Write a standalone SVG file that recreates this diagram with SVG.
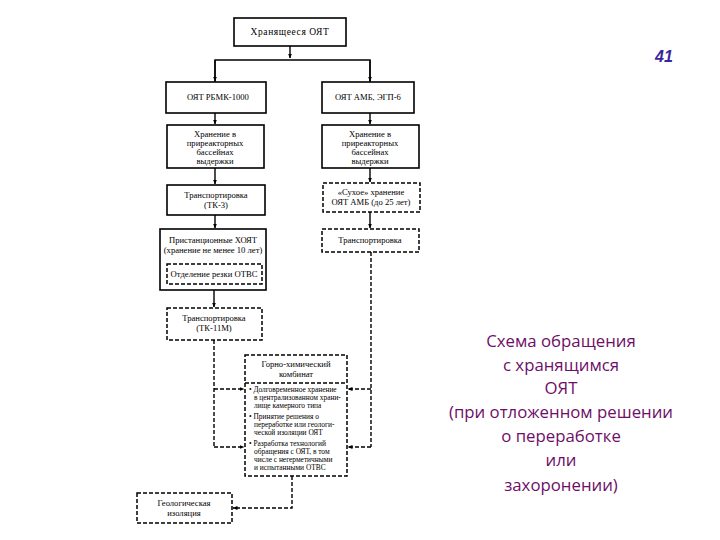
<svg xmlns="http://www.w3.org/2000/svg" width="720" height="540" viewBox="0 0 720 540">
<defs>
<marker id="ah" viewBox="0 0 10 10" refX="9" refY="5" markerWidth="5" markerHeight="5" orient="auto" markerUnits="userSpaceOnUse">
<path d="M0,1 L10,5 L0,9 z" fill="#000"/>
</marker>
</defs>
<style>
.box{fill:#fff;stroke:#000;stroke-width:1.6}
.dbox{fill:#fff;stroke:#000;stroke-width:1.5;stroke-dasharray:4 2}
.t{font-family:"Liberation Serif","DejaVu Serif",serif;font-size:8.6px;fill:#000;text-anchor:middle}
.tl{font-family:"Liberation Serif","DejaVu Serif",serif;font-size:7.4px;fill:#000}
.ln{fill:none;stroke:#000;stroke-width:1.4}
.dl{fill:none;stroke:#000;stroke-width:1.4;stroke-dasharray:4 2}
.cap{font-family:"Open Sans","Noto Sans",sans-serif;font-size:16.8px;fill:#6e0e68;text-anchor:middle}
</style>
<rect width="720" height="540" fill="#fff"/>
<g id="connectors">
<path class="ln" d="M290,46 V58" marker-end="url(#ah)"/>
<path class="ln" d="M215,82 V60 H370 V82" />
<path class="ln" d="M215,60 V81" marker-end="url(#ah)"/>
<path class="ln" d="M370,60 V81" marker-end="url(#ah)"/>
<path class="ln" d="M215,113 V124" marker-end="url(#ah)"/>
<path class="ln" d="M370,113 V124" marker-end="url(#ah)"/>
<path class="ln" d="M215,168 V184" marker-end="url(#ah)"/>
<path class="ln" d="M370,168 V182" marker-end="url(#ah)"/>
<path class="ln" d="M215,215 V228" marker-end="url(#ah)"/>
<path class="ln" d="M370,212 V228" marker-end="url(#ah)"/>
<path class="ln" d="M214,290 V307" marker-end="url(#ah)"/>
<path class="dl" d="M214,340 V447"/>
<path class="dl" d="M214,389 H244" marker-end="url(#ah)"/>
<path class="dl" d="M214,447 H244" marker-end="url(#ah)"/>
<path class="dl" d="M371,252 V447"/>
<path class="dl" d="M371,389 H348" marker-end="url(#ah)"/>
<path class="dl" d="M371,447 H348" marker-end="url(#ah)"/>
<path class="dl" d="M292,476 V508 H233" marker-end="url(#ah)"/>
</g>
<g id="n-top">
<rect class="box" x="234" y="18" width="112" height="28"/>
<text class="t" x="290" y="35" style="font-size:9.5px;letter-spacing:0.6px">Хранящееся ОЯТ</text>
</g>
<g id="n-rbmk">
<rect class="box" x="166" y="82" width="100" height="31"/>
<text class="t" x="218" y="100">ОЯТ РБМК-1000</text>
</g>
<g id="n-amb">
<rect class="box" x="322" y="82" width="92" height="31"/>
<text class="t" x="368" y="100">ОЯТ АМБ, ЭГП-6</text>
</g>
<g id="n-pool1">
<rect class="box" x="167" y="125" width="97" height="43"/>
<text class="t" x="215" y="137">Хранение в</text>
<text class="t" x="215" y="146">приреакторных</text>
<text class="t" x="215" y="155">бассейнах</text>
<text class="t" x="215" y="164">выдержки</text>
</g>
<g id="n-pool2">
<rect class="box" x="322" y="125" width="97" height="43"/>
<text class="t" x="370" y="137">Хранение в</text>
<text class="t" x="370" y="146">приреакторных</text>
<text class="t" x="370" y="155">бассейнах</text>
<text class="t" x="370" y="164">выдержки</text>
</g>
<g id="n-tk3">
<rect class="box" x="167" y="185" width="98" height="30"/>
<text class="t" x="216" y="198">Транспортировка</text>
<text class="t" x="216" y="208">(ТК-3)</text>
</g>
<g id="n-dry">
<rect class="dbox" x="323" y="183" width="97" height="29"/>
<text class="t" x="371" y="195">«Сухое» хранение</text>
<text class="t" x="371" y="205">ОЯТ АМБ (до 25 лет)</text>
</g>
<g id="n-trans2">
<rect class="dbox" x="322" y="229" width="97" height="23"/>
<text class="t" x="370" y="243">Транспортировка</text>
</g>
<g id="n-hoyat">
<rect class="box" x="160" y="229" width="106" height="61"/>
<text class="t" x="213" y="243">Пристанционные ХОЯТ</text>
<text class="t" x="213" y="253">(хранение не менее 10 лет)</text>
<rect class="dbox" x="167" y="264" width="95" height="20"/>
<text class="t" x="214" y="277">Отделение резки ОТВС</text>
</g>
<g id="n-tk11">
<rect class="dbox" x="167" y="308" width="95" height="32"/>
<text class="t" x="214" y="321">Транспортировка</text>
<text class="t" x="214" y="331">(ТК-11М)</text>
</g>
<g id="n-ghk">
<rect class="dbox" x="245" y="355" width="102" height="121"/>
<line class="dl" x1="245" y1="383" x2="347" y2="383"/>
<text class="t" x="296" y="367">Горно-химический</text>
<text class="t" x="296" y="377">комбинат</text>
<text class="tl" x="249" y="392">• Долговременное хранение</text>
<text class="tl" x="254" y="400">в централизованном храни-</text>
<text class="tl" x="254" y="408">лище камерного типа</text>
<text class="tl" x="249" y="419">• Принятие решения о</text>
<text class="tl" x="254" y="427">переработке или геологи-</text>
<text class="tl" x="254" y="435">ческой изоляции ОЯТ</text>
<text class="tl" x="249" y="446">• Разработка технологий</text>
<text class="tl" x="254" y="454">обращения с ОЯТ, в том</text>
<text class="tl" x="254" y="462">числе с негерметичными</text>
<text class="tl" x="254" y="470">и испытанными ОТВС</text>
</g>
<g id="n-geo">
<rect class="dbox" x="137" y="493" width="95" height="30"/>
<text class="t" x="184" y="506">Геологическая</text>
<text class="t" x="184" y="516">изоляция</text>
</g>
<text x="664" y="62" style="font-family:'Liberation Sans',Arial,sans-serif;font-size:16px;font-weight:bold;font-style:italic;fill:#3a25a0" text-anchor="middle">41</text>
<g id="caption">
<text class="cap" x="561" y="347">Схема обращения</text>
<text class="cap" x="561" y="371">с хранящимся</text>
<text class="cap" x="561" y="394">ОЯТ</text>
<text class="cap" x="561" y="418">(при отложенном решении</text>
<text class="cap" x="561" y="442">о переработке</text>
<text class="cap" x="561" y="466">или</text>
<text class="cap" x="561" y="491">захоронении)</text>
</g>
</svg>
